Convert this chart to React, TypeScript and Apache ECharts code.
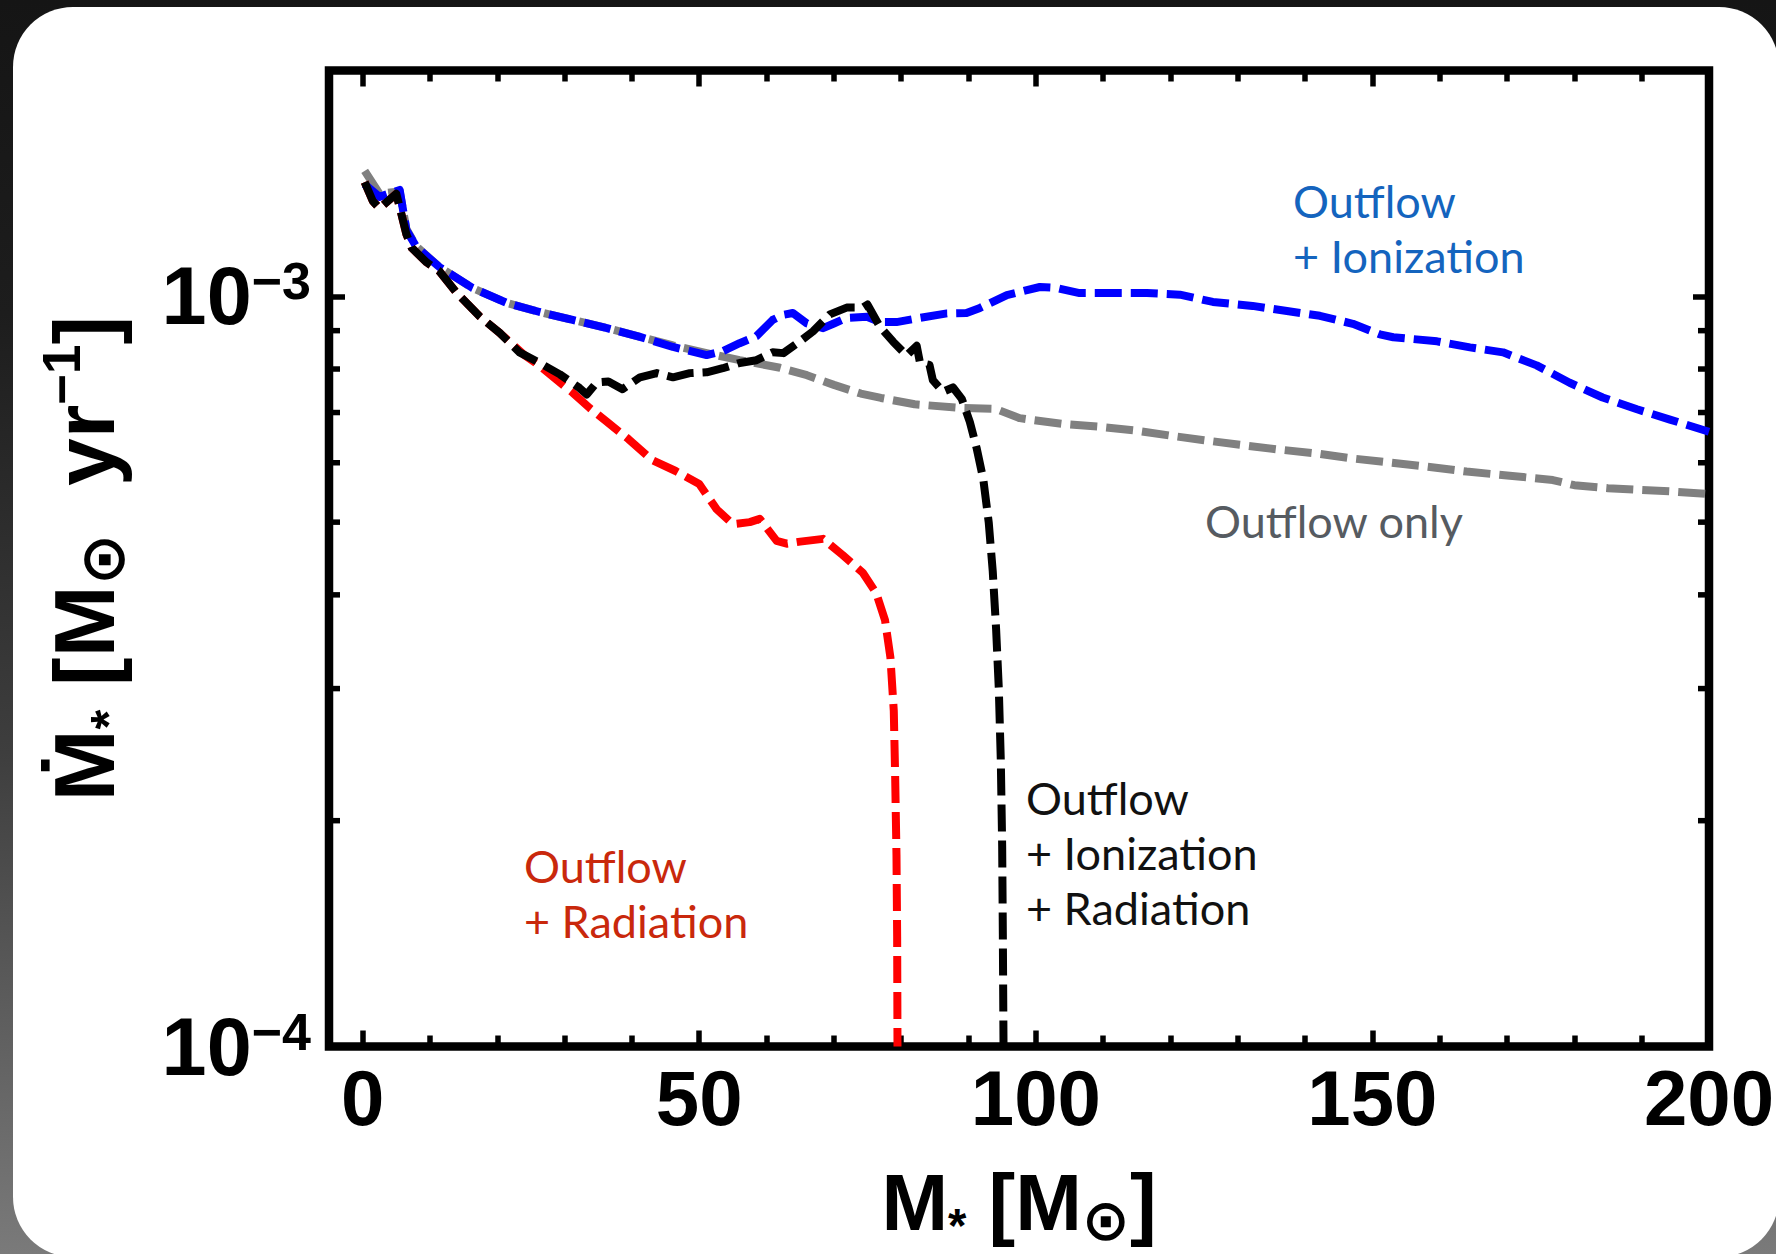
import React, { useEffect, useRef } from "react";
import * as echarts from "echarts";

// Axis ranges
const X_MIN = -5;
const X_MAX = 200;
const Y_MIN = 1e-4;
const Y_MAX = 2e-3;

// Tick positions
const xMajorTicks = [0, 50, 100, 150, 200];
const xMinorTicks = [10, 20, 30, 40, 60, 70, 80, 90, 110, 120, 130, 140, 160, 170, 180, 190];
const yMinorTicks = [2e-4, 3e-4, 4e-4, 5e-4, 6e-4, 7e-4, 8e-4, 9e-4];

// [stellar mass (Msun), accretion rate (Msun/yr)]
const outflowOnly: [number, number][] = [
  [0.3, 1.47e-3], [2.5, 1.37e-3], [5.5, 1.38e-3], [6.5, 1.23e-3], [8, 1.165e-3],
  [11.4, 1.094e-3], [16.3, 1.026e-3], [21.4, 9.8e-4], [26.3, 9.53e-4], [31.2, 9.3e-4],
  [36.3, 9.07e-4], [41.2, 8.83e-4], [46.1, 8.6e-4], [51.1, 8.4e-4], [56, 8.22e-4],
  [62, 8.03e-4], [66, 7.85e-4], [70, 7.62e-4], [74, 7.42e-4], [77, 7.32e-4],
  [82, 7.18e-4], [88.7, 7.1e-4], [94, 7.08e-4], [97.6, 6.88e-4], [99.6, 6.84e-4],
  [104, 6.76e-4], [109.5, 6.7e-4], [115, 6.62e-4], [120, 6.52e-4], [125, 6.43e-4],
  [130.3, 6.34e-4], [136, 6.25e-4], [142, 6.17e-4], [147, 6.08e-4], [152.2, 6.01e-4],
  [158, 5.93e-4], [164, 5.84e-4], [170, 5.77e-4], [176.8, 5.69e-4], [180, 5.6e-4],
  [185, 5.55e-4], [190, 5.52e-4], [195, 5.49e-4], [200, 5.45e-4],
];

const outflowIonization: [number, number][] = [
  [0.3, 1.41e-3], [2.5, 1.357e-3], [5.5, 1.386e-3], [6.5, 1.226e-3], [8, 1.163e-3],
  [11.4, 1.094e-3], [16.3, 1.026e-3], [21.4, 9.8e-4], [26.3, 9.53e-4], [31.2, 9.3e-4],
  [36.3, 9.07e-4], [41.2, 8.83e-4], [46.1, 8.56e-4], [51.1, 8.35e-4], [53.5, 8.45e-4],
  [56, 8.66e-4], [58.5, 8.85e-4], [60.9, 9.3e-4], [62.5, 9.45e-4], [63.9, 9.5e-4],
  [66, 9.2e-4], [68.4, 9.07e-4], [70, 9.2e-4], [71.9, 9.36e-4], [74.9, 9.39e-4],
  [76.8, 9.24e-4], [79.3, 9.24e-4], [82.8, 9.36e-4], [86.8, 9.49e-4], [89.7, 9.5e-4],
  [91.7, 9.65e-4], [95.7, 1.004e-3], [100.6, 1.029e-3], [103.1, 1.026e-3], [106.5, 1.01e-3],
  [111.4, 1.01e-3], [116.5, 1.01e-3], [121.4, 1.005e-3], [126.3, 9.83e-4], [132.2, 9.71e-4],
  [137.3, 9.56e-4], [142.2, 9.42e-4], [147.1, 9.19e-4], [151.1, 8.9e-4], [153.1, 8.82e-4],
  [159.6, 8.71e-4], [164.5, 8.55e-4], [169.4, 8.42e-4], [174.4, 8.09e-4], [179.3, 7.67e-4],
  [184.2, 7.33e-4], [189.3, 7.07e-4], [194.2, 6.85e-4], [200, 6.6e-4],
];

const outflowRadiation: [number, number][] = [
  [0.3, 1.42e-3], [1.5, 1.34e-3], [2.5, 1.31e-3], [5, 1.37e-3], [6.5, 1.21e-3],
  [7.3, 1.16e-3], [9.5, 1.11e-3], [11.4, 1.08e-3], [14, 1.01e-3], [17.4, 9.4e-4],
  [20.4, 8.93e-4], [24, 8.35e-4], [26.3, 8.08e-4], [28.8, 7.74e-4], [31.2, 7.44e-4],
  [33.7, 7.1e-4], [36.3, 6.8e-4], [39.5, 6.45e-4], [43, 6.05e-4], [46.5, 5.85e-4],
  [50, 5.62e-4], [52.6, 5.2e-4], [55, 4.97e-4], [57.5, 5.0e-4], [59, 5.05e-4],
  [61.5, 4.72e-4], [63, 4.68e-4], [65, 4.71e-4], [68.4, 4.75e-4], [71.3, 4.52e-4],
  [74.3, 4.28e-4], [76.3, 4.02e-4], [77.6, 3.7e-4], [78.4, 3.3e-4], [78.9, 2.8e-4],
  [79.1, 2.3e-4], [79.3, 1.8e-4], [79.4, 1.4e-4], [79.45, 1.0e-4],
];

const outflowIonizationRadiation: [number, number][] = [
  [0.3, 1.42e-3], [1.5, 1.34e-3], [2.5, 1.31e-3], [5, 1.37e-3], [6.5, 1.21e-3],
  [7.3, 1.16e-3], [9.5, 1.11e-3], [11.4, 1.08e-3], [14, 1.01e-3], [17.4, 9.4e-4],
  [20.4, 8.93e-4], [23.3, 8.42e-4], [26.3, 8.15e-4], [29.3, 7.87e-4], [32.2, 7.55e-4],
  [33.3, 7.4e-4], [34.8, 7.68e-4], [36.5, 7.7e-4], [38.6, 7.52e-4], [41.2, 7.8e-4],
  [43.7, 7.9e-4], [46.1, 7.8e-4], [48.6, 7.9e-4], [51.1, 7.92e-4], [53.5, 8.02e-4],
  [56, 8.15e-4], [58.5, 8.22e-4], [60.9, 8.42e-4], [62.5, 8.4e-4], [64.9, 8.7e-4],
  [66.9, 8.98e-4], [69.4, 9.46e-4], [71.9, 9.66e-4], [74.3, 9.66e-4], [75, 9.75e-4],
  [76.8, 9.12e-4], [78.8, 8.7e-4], [80.8, 8.34e-4], [82.3, 8.59e-4], [82.8, 8.15e-4],
  [84.2, 8.1e-4], [84.7, 7.73e-4], [86.2, 7.46e-4], [87.7, 7.56e-4], [89, 7.3e-4],
  [90.2, 6.8e-4], [91.2, 6.28e-4], [92.2, 5.7e-4], [93, 5.0e-4], [93.6, 4.3e-4],
  [94.1, 3.6e-4], [94.5, 3.0e-4], [94.8, 2.4e-4], [95, 1.85e-4], [95.1, 1.41e-4],
  [95.2, 1.0e-4],
];

const BOLD_FONT = "'Liberation Sans', 'DejaVu Sans', Arial, sans-serif";
const NOTE_FONT = "Lato, 'Open Sans', sans-serif";

const DASH = [27, 9];
const LINE_W = 8;
const TICK_W = 5.5;
const MAJOR_LEN = 16;
const MINOR_LEN = 11;

// Rich-text styles for axis titles: main glyphs, subscript star, sun symbol, superscript
function titleRich(size: number) {
  const k = size / 78;
  return {
    m: { fontSize: size, fontWeight: "bold", fontFamily: BOLD_FONT, color: "#000", lineHeight: 90 * k },
    ast: { fontSize: 46 * k, fontWeight: "bold", fontFamily: BOLD_FONT, color: "#000", lineHeight: 34 * k, verticalAlign: "bottom" },
    sun: { fontSize: 56 * k, fontWeight: "bold", fontFamily: "'DejaVu Sans', sans-serif", color: "#000", lineHeight: 46 * k, verticalAlign: "bottom" },
    sup: { fontSize: 48 * k, fontWeight: "bold", fontFamily: BOLD_FONT, color: "#000", lineHeight: 28 * k, verticalAlign: "top" },
  };
}

function lineSeries(name: string, data: [number, number][], color: string, z: number) {
  return {
    name,
    type: "line",
    data,
    showSymbol: false,
    symbol: "none",
    smooth: false,
    z,
    lineStyle: { color, width: LINE_W, type: DASH, cap: "butt", join: "round" },
  };
}

function xAxisDef(position: "bottom" | "top", ticks: number[], len: number, labelled: boolean) {
  return {
    type: "value",
    min: X_MIN,
    max: X_MAX,
    position,
    axisLine: { show: false, onZero: false },
    splitLine: { show: false },
    axisTick: { show: true, inside: true, length: len, customValues: ticks, lineStyle: { color: "#000", width: TICK_W } },
    axisLabel: labelled
      ? { show: true, customValues: ticks, margin: 12, fontSize: 78, fontWeight: "bold", fontFamily: BOLD_FONT, color: "#000", lineHeight: 78 }
      : { show: false },
  };
}

function yAxisDef(position: "left" | "right", labelled: boolean) {
  return {
    type: "log",
    logBase: 10,
    min: Y_MIN,
    max: Y_MAX,
    position,
    axisLine: { show: false, onZero: false },
    splitLine: { show: false },
    minorTick: { show: false },
    axisTick: { show: true, inside: true, length: MAJOR_LEN, lineStyle: { color: "#000", width: TICK_W } },
    axisLabel: labelled
      ? {
          show: true,
          margin: 18,
          formatter: (v: number) => {
            const e = Math.log10(v);
            const r = Math.round(e);
            if (Math.abs(e - r) > 1e-6) return "";
            return `{a|10}{b|\u2212${-r}}`;
          },
          rich: {
            a: { fontSize: 81, fontWeight: "bold", fontFamily: BOLD_FONT, color: "#000", lineHeight: 82 },
            b: { fontSize: 52, fontWeight: "bold", fontFamily: BOLD_FONT, color: "#000", lineHeight: 40, verticalAlign: "top" },
          },
        }
      : { show: false },
  };
}

export default function App() {
  const ref = useRef<HTMLDivElement>(null);

  useEffect(() => {
    if (!ref.current) return;
    const chart = echarts.init(ref.current, undefined, { renderer: "svg" });

    const option: any = {
      animation: false,
      backgroundColor: "transparent",
      grid: {
        show: true,
        left: 329,
        top: 70.5,
        width: 1380,
        height: 976,
        borderColor: "#000",
        borderWidth: 8.5,
        backgroundColor: "transparent",
        outerBoundsMode: "none",
        containLabel: false,
      },
      xAxis: [
        {
          ...xAxisDef("bottom", xMajorTicks, MAJOR_LEN, true),
          name: "{m|M}{ast|*}{m| [M}{sun|\u2299}{m|]}",
          nameLocation: "middle",
          nameGap: 110,
          nameTextStyle: { rich: titleRich(80) },
        },
        xAxisDef("bottom", xMinorTicks, MINOR_LEN, false),
        xAxisDef("top", xMajorTicks, MAJOR_LEN, false),
        xAxisDef("top", xMinorTicks, MINOR_LEN, false),
      ],
      yAxis: [
        {
          ...yAxisDef("left", true),
          name: "{m|\u1E40}{ast|*}{m| [M}{sun|\u2299}{m|  yr}{sup|\u22121}{m|]}",
          nameLocation: "middle",
          nameRotate: 90,
          nameGap: 195,
          nameTextStyle: { rich: titleRich(86) },
        },
        yAxisDef("right", false),
      ],
      series: [
        {
          type: "custom",
          silent: true,
          clip: false,
          z: 1,
          data: yMinorTicks.map((v) => [X_MIN, v]),
          renderItem: (_params: any, api: any) => {
            const v = api.value(1);
            const l = api.coord([X_MIN, v]);
            const r = api.coord([X_MAX, v]);
            const style = { stroke: "#000", lineWidth: TICK_W };
            return {
              type: "group",
              children: [
                { type: "line", shape: { x1: l[0], y1: l[1], x2: l[0] + MINOR_LEN, y2: l[1] }, style },
                { type: "line", shape: { x1: r[0], y1: r[1], x2: r[0] - MINOR_LEN, y2: r[1] }, style },
              ],
            };
          },
        },
        lineSeries("Outflow only", outflowOnly, "#808080", 2),
        lineSeries("Outflow + Radiation", outflowRadiation, "#ff0000", 3),
        lineSeries("Outflow + Ionization", outflowIonization, "#0000ff", 4),
        lineSeries("Outflow + Ionization + Radiation", outflowIonizationRadiation, "#000000", 5),
      ],
      graphic: [
        {
          type: "text",
          x: 1293,
          y: 173,
          style: { text: "Outflow\n+ Ionization", fontSize: 45, fontFamily: NOTE_FONT, fill: "#1464be", lineHeight: 55, align: "left", verticalAlign: "top" },
        },
        {
          type: "text",
          x: 1205,
          y: 493,
          style: { text: "Outflow only", fontSize: 45, fontFamily: NOTE_FONT, fill: "#565b61", lineHeight: 55, align: "left", verticalAlign: "top" },
        },
        {
          type: "text",
          x: 1026,
          y: 770,
          style: { text: "Outflow\n+ Ionization\n+ Radiation", fontSize: 45, fontFamily: NOTE_FONT, fill: "#111111", lineHeight: 55, align: "left", verticalAlign: "top" },
        },
        {
          type: "text",
          x: 524,
          y: 838,
          style: { text: "Outflow\n+ Radiation", fontSize: 45, fontFamily: NOTE_FONT, fill: "#c9280c", lineHeight: 55, align: "left", verticalAlign: "top" },
        },
      ],
    };

    chart.setOption(option);
    return () => chart.dispose();
  }, []);

  return (
    <div
      style={{
        position: "fixed",
        left: 0,
        top: 0,
        width: 1776,
        height: 1254,
        overflow: "hidden",
        background: "linear-gradient(to bottom, #151515 0%, #1d1d1d 25%, #3e3e3e 60%, #7a7a7a 100%)",
      }}
    >
      <div
        style={{
          position: "absolute",
          left: 13,
          top: 7,
          width: 1766,
          height: 1250,
          borderRadius: 60,
          background: "#ffffff",
        }}
      />
      <div ref={ref} style={{ position: "absolute", left: 0, top: 0, width: 1776, height: 1254 }} />
    </div>
  );
}
